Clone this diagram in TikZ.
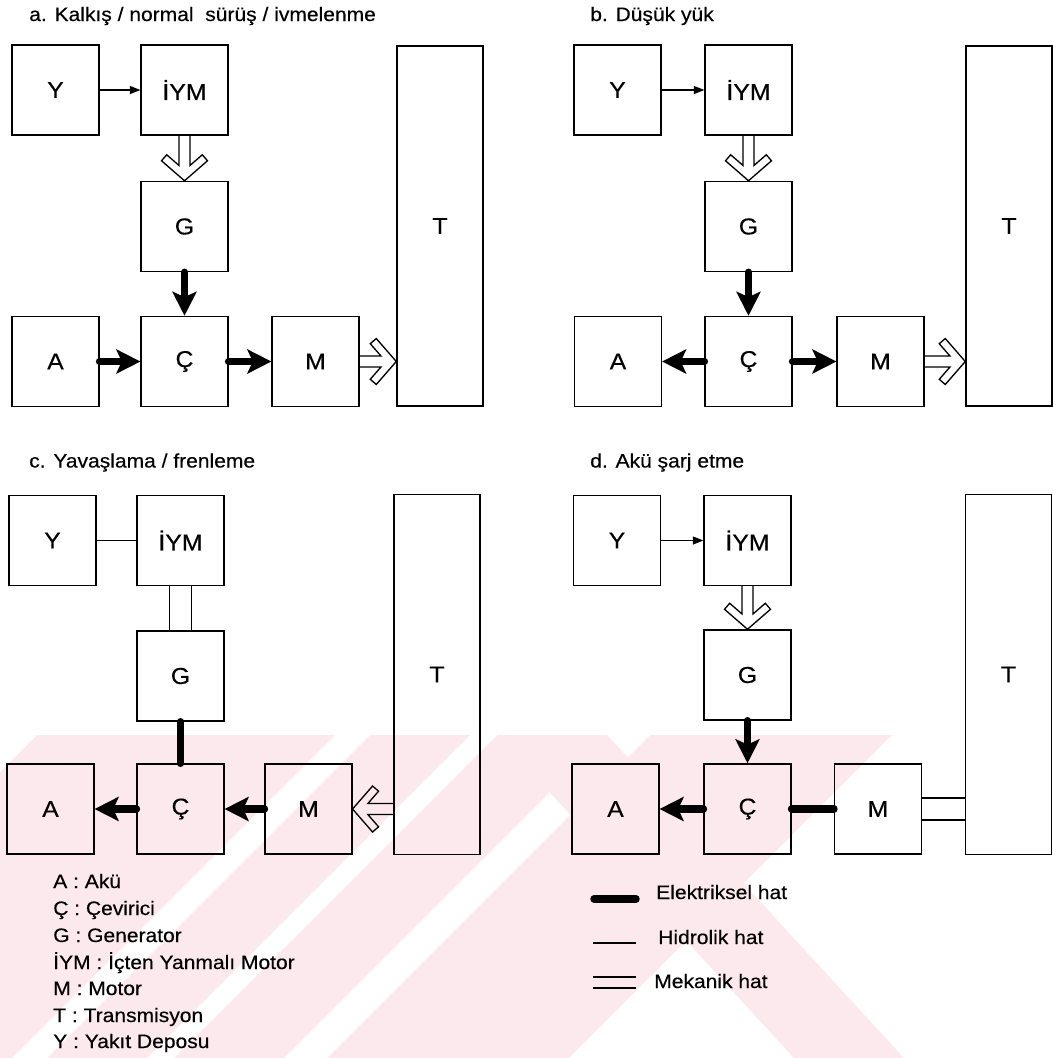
\documentclass[tikz,border=0pt]{standalone}
\usepackage{fontspec}
\setmainfont{Liberation Sans}[FakeStretch=1.08,FakeBold=0.4]
\usetikzlibrary{arrows.meta,calc}
\definecolor{wmpink}{RGB}{252,233,237}
\newcommand\mecharrow[3]{%
  \path let \p1=($(#2)-(#1)$) in \pgfextra{\pgfmathsetmacro\mlen{veclen(\x1,\y1)/0.75}\global\let\mlen\mlen};
  \begin{scope}[shift={(#2)},rotate=#3]
    \draw[mline] (-\mlen,5.5) -- (-15.3,5.5) -- (-26,17.8) -- (-20,23) -- (0,0) -- (-20,-23) -- (-26,-17.8) -- (-15.3,-5.5) -- (-\mlen,-5.5);
  \end{scope}}
\begin{document}
\begin{tikzpicture}[x=0.75pt,y=-0.75pt,
  box/.style={draw, line width=1.1pt, minimum width=65pt, minimum height=67.5pt, inner sep=0pt, font=\fontsize{17.25}{20}\selectfont},
  tbox/.style={box, minimum width=64.5pt, minimum height=270pt},
  hyd/.style={line width=1pt},
  hydarrow/.style={hyd, -{Triangle[length=8pt,width=6pt]}},
  elec/.style={line width=5.6pt, line cap=round},
  elecarrow/.style={elec, -{Stealth[length=18pt,width=18pt,inset=4pt]}},
  mline/.style={line width=1pt, line join=miter},
  ttl/.style={anchor=base west, inner sep=0pt, font=\fontsize{14.6}{17}\selectfont},
  wm/.style={fill=wmpink, draw=none}
]
\useasboundingbox (0,0) rectangle (1053,1058);

% ---------- faint watermark (background) ----------
\fill[wm] (37,735) -- (892,735) -- (569,1058) -- (0,1058) -- (0,772) -- cycle;
\fill[white] (335,735) -- (370,735) -- (47,1058) -- (12,1058) -- cycle;
\fill[white] (470,735) -- (497,735) -- (174,1058) -- (147,1058) -- cycle;
\fill[white] (607,735) -- (650,735) -- (327,1058) -- (284,1058) -- cycle;
\fill[wm] (497,735) -- (607,735) -- (904,1058) -- (794,1058) -- cycle;

% ---------- panel a ----------
\node[ttl] (ta) at (29,21) {a. Kalkış / normal~~sürüş / ivmelenme};
\node[box] (aY) at (55.5,90) {Y};
\node[box] (aIYM) at (184.5,90) {İYM};
\node[box] (aG) at (184.5,226.5) {G};
\node[box] (aA) at (55.5,361.5) {A};
\node[box] (aC) at (184.5,361.5) {Ç};
\node[box] (aM) at (315.5,361.5) {M};
\node[tbox] (aT) at (440,226) {T};
\draw[hydarrow] (aY) -- (aIYM);
\mecharrow{aIYM.south}{aG.north}{-90}
\draw[elecarrow] (aG) -- (aC);
\draw[elecarrow] (aA) -- (aC);
\draw[elecarrow] (aC) -- (aM);
\mecharrow{aM.east}{aT.west |- aM.east}{0}

% ---------- panel b ----------
\node[ttl] (tb) at (590,21) {b. Düşük yük};
\node[box] (bY) at (617.5,90) {Y};
\node[box] (bIYM) at (748.5,90) {İYM};
\node[box] (bG) at (748.5,226.5) {G};
\node[box] (bA) at (618,361.5) {A};
\node[box] (bC) at (748.5,361.5) {Ç};
\node[box] (bM) at (880.5,361.5) {M};
\node[tbox] (bT) at (1009,226) {T};
\draw[hydarrow] (bY) -- (bIYM);
\mecharrow{bIYM.south}{bG.north}{-90}
\draw[elecarrow] (bG) -- (bC);
\draw[elecarrow] (bC) -- (bA);
\draw[elecarrow] (bC) -- (bM);
\mecharrow{bM.east}{bT.west |- bM.east}{0}

% ---------- panel c ----------
\node[ttl] (tc) at (29,467.5) {c. Yavaşlama / frenleme};
\node[box] (cY) at (52.5,540.5) {Y};
\node[box] (cIYM) at (180.5,540.5) {İYM};
\node[box] (cG) at (180.5,676) {G};
\node[box] (cA) at (50.5,809) {A};
\node[box] (cC) at (180.5,809) {Ç};
\node[box] (cM) at (308.5,809) {M};
\node[tbox] (cT) at (437,674.5) {T};
\draw[hyd] (cY) -- (cIYM);
\draw[mline] ([xshift=-8.25pt]cIYM.south) -- ([xshift=-8.25pt]cG.north);
\draw[mline] ([xshift=8.25pt]cIYM.south) -- ([xshift=8.25pt]cG.north);
\draw[elec] (cG) -- (cC);
\draw[elecarrow] (cC) -- (cA);
\draw[elecarrow] (cM) -- (cC);
\mecharrow{cT.west |- cM.east}{cM.east}{180}

% ---------- panel d ----------
\node[ttl] (td) at (590,467.5) {d. Akü şarj etme};
\node[box] (dY) at (617,540.5) {Y};
\node[box] (dIYM) at (747.5,540.5) {İYM};
\node[box] (dG) at (747.5,675) {G};
\node[box] (dA) at (615.5,809) {A};
\node[box] (dC) at (747.5,809) {Ç};
\node[box] (dM) at (878,809) {M};
\node[tbox] (dT) at (1008.5,674.5) {T};
\draw[hydarrow] (dY) -- (dIYM);
\mecharrow{dIYM.south}{dG.north}{-90}
\draw[elecarrow] (dG) -- (dC);
\draw[elecarrow] (dC) -- (dA);
\draw[elec] (dC) -- (dM);
\draw[mline] ([yshift=8.25pt]dM.east) -- ([yshift=8.25pt]dM.east -| dT.west);
\draw[mline] ([yshift=-8.25pt]dM.east) -- ([yshift=-8.25pt]dM.east -| dT.west);

% ---------- legend ----------
\node[ttl] (l1) at (53,888) {A : Akü};
\node[ttl] (l2) at (53,915) {Ç : Çevirici};
\node[ttl] (l3) at (53,942) {G : Generator};
\node[ttl] (l4) at (53,969) {İYM : İçten Yanmalı Motor};
\node[ttl] (l5) at (53,995) {M : Motor};
\node[ttl] (l6) at (53,1022) {T : Transmisyon};
\node[ttl] (l7) at (53,1048) {Y : Yakıt Deposu};

\coordinate (e1) at (594,899); \coordinate (e2) at (636,899);
\coordinate (h1) at (593,943); \coordinate (h2) at (636,943);
\coordinate (m1) at (593,977); \coordinate (m2) at (636,977);
\coordinate (m3) at (593,988); \coordinate (m4) at (636,988);
\draw[elec] (e1) -- (e2);
\draw[hyd] (h1) -- (h2);
\draw[mline] (m1) -- (m2);
\draw[mline] (m3) -- (m4);
\node[ttl] (r1) at (656,899) {Elektriksel hat};
\node[ttl] (r2) at (658,944) {Hidrolik hat};
\node[ttl] (r3) at (654,988) {Mekanik hat};
\end{tikzpicture}
\end{document}
